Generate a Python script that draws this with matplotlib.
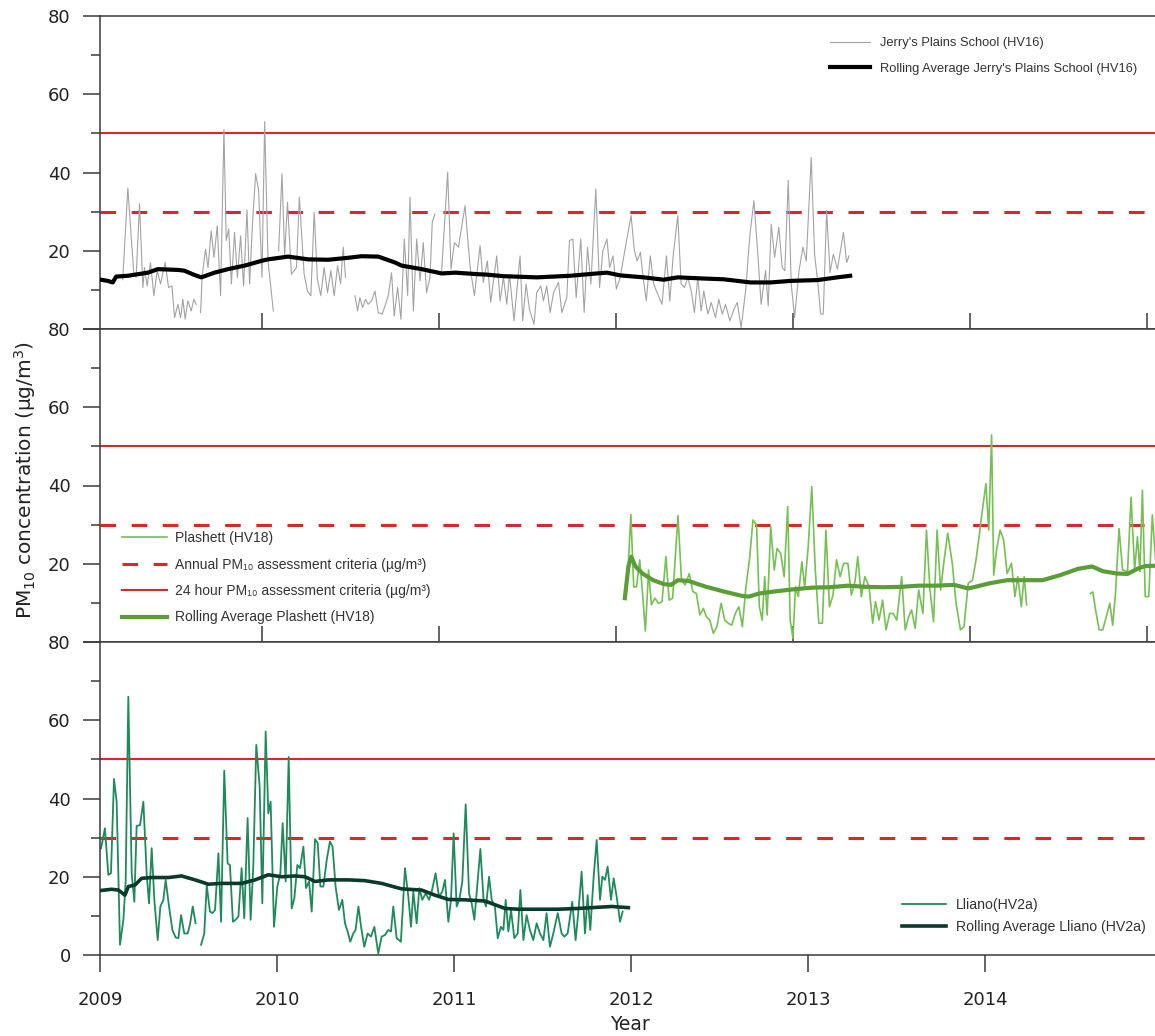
import numpy as np
import matplotlib
matplotlib.use("Agg")
import matplotlib.pyplot as plt
from matplotlib.ticker import FixedLocator

nan = np.nan

# ---------------- data (decimal year, PM10 ug/m3) ----------------
jerrys_obs = [
    (2009.213, 12.6), (2009.242, 36.0), (2009.276, 14.0), (2009.289, 13.2), (2009.308, 32.0),
    (2009.327, 10.6), (2009.336, 15.7), (2009.351, 11.0), (2009.370, 17.0), (2009.389, 8.5),
    (2009.408, 14.9), (2009.427, 11.5), (2009.453, 17.0), (2009.472, 10.6), (2009.491, 11.0),
    (2009.506, 2.9), (2009.525, 6.3), (2009.540, 2.9), (2009.553, 7.6), (2009.566, 2.5),
    (2009.581, 7.2), (2009.600, 4.6), (2009.615, 7.6), (2009.628, 6.3), (2009.640, nan),
    (2009.653, 4.2), (2009.662, 13.6), (2009.681, 20.4), (2009.695, 15.7), (2009.713, 25.1),
    (2009.729, 18.3), (2009.747, 26.4), (2009.766, 8.5), (2009.785, 51.0), (2009.798, 22.6),
    (2009.812, 25.6), (2009.827, 11.5), (2009.845, 24.7), (2009.861, 13.2), (2009.879, 23.8),
    (2009.896, 11.0), (2009.915, 30.4), (2009.930, 11.5), (2009.945, 26.0), (2009.964, 39.7),
    (2009.981, 35.4), (2010.000, 13.2), (2010.015, 53.0), (2010.034, 17.4), (2010.064, 4.6),
    (2010.080, nan),
    (2010.094, 20.0), (2010.113, 39.7), (2010.128, 18.7), (2010.144, 32.4), (2010.166, 14.0),
    (2010.195, 15.7), (2010.211, 33.7), (2010.238, 14.0), (2010.257, 9.7), (2010.276, 8.5),
    (2010.295, 29.8), (2010.313, 12.7), (2010.332, 8.5), (2010.351, 15.7), (2010.370, 9.3),
    (2010.389, 14.9), (2010.408, 8.5), (2010.427, 16.2), (2010.444, 11.5), (2010.459, 20.9),
    (2010.472, 13.2), (2010.500, nan),
    (2010.525, 8.5), (2010.540, 4.6), (2010.553, 8.0), (2010.568, 5.5), (2010.585, 7.6),
    (2010.600, 6.3), (2010.619, 7.2), (2010.638, 9.7), (2010.657, 4.2), (2010.679, 3.8),
    (2010.698, 6.3), (2010.713, 8.5), (2010.732, 14.4), (2010.747, 3.3), (2010.766, 10.6),
    (2010.785, 2.5), (2010.804, 23.0), (2010.823, 8.5), (2010.836, 33.7), (2010.855, 4.6),
    (2010.874, 23.0), (2010.893, 12.3), (2010.911, 22.1), (2010.930, 9.3), (2010.949, 13.2),
    (2010.962, 27.3), (2010.977, 29.4), (2010.995, nan),
    (2011.015, 14.9), (2011.049, 40.1), (2011.068, 15.3), (2011.087, 22.1), (2011.110, 20.9),
    (2011.147, 31.5), (2011.176, 15.7), (2011.200, 8.5), (2011.232, 21.3), (2011.250, 11.9),
    (2011.273, 17.4), (2011.292, 6.8), (2011.326, 18.7), (2011.345, 7.2), (2011.364, 13.2),
    (2011.383, 6.3), (2011.398, 14.0), (2011.424, 2.1), (2011.443, 11.5), (2011.458, 18.7),
    (2011.473, 2.1), (2011.492, 11.5), (2011.511, 5.0), (2011.537, 1.2), (2011.552, 9.3),
    (2011.575, 11.0), (2011.590, 7.2), (2011.609, 11.0), (2011.628, 4.2), (2011.647, 9.3),
    (2011.675, 11.9), (2011.694, 4.2), (2011.722, 8.0), (2011.737, 22.6), (2011.756, 23.0),
    (2011.775, 8.0), (2011.801, 23.0), (2011.820, 4.2), (2011.839, 20.9), (2011.858, 11.5),
    (2011.886, 35.8), (2011.907, 10.6), (2011.926, 20.0), (2011.949, 23.0), (2011.964, 15.7),
    (2011.983, 18.7), (2012.002, 10.2), (2012.024, 13.2), (2012.053, 20.9), (2012.085, 29.0),
    (2012.104, 20.0), (2012.119, 17.4), (2012.138, 19.6), (2012.153, 13.2), (2012.171, 7.2),
    (2012.194, 18.7), (2012.213, 11.5), (2012.232, 9.3), (2012.260, 6.3), (2012.285, 18.7),
    (2012.304, 7.2), (2012.323, 18.7), (2012.349, 29.0), (2012.368, 11.5), (2012.387, 10.6),
    (2012.406, 13.2), (2012.425, 9.7), (2012.443, 4.2), (2012.462, 13.2), (2012.481, 4.6),
    (2012.496, 9.7), (2012.519, 3.8), (2012.538, 6.8), (2012.562, 2.9), (2012.581, 7.6),
    (2012.600, 3.8), (2012.619, 6.3), (2012.643, 2.1), (2012.666, 5.0), (2012.685, 6.8),
    (2012.707, 0.3), (2012.732, 9.7), (2012.756, 23.8), (2012.779, 32.8), (2012.802, 18.7),
    (2012.820, 6.3), (2012.845, 14.9), (2012.860, 5.9), (2012.877, 26.8), (2012.896, 18.3),
    (2012.920, 26.0), (2012.939, 15.7), (2012.954, 14.9), (2012.973, 38.0), (2012.990, 11.5),
    (2013.009, 2.9), (2013.034, 14.9), (2013.056, 20.9), (2013.075, 17.4), (2013.103, 43.9),
    (2013.122, 19.1), (2013.141, 11.5), (2013.156, 3.8), (2013.171, 3.8), (2013.190, 30.3),
    (2013.209, 14.4), (2013.228, 19.1), (2013.251, 15.3), (2013.285, 24.7), (2013.303, 17.0),
    (2013.317, 18.7),
]
jerrys_roll = [
    (2009.076, 12.7), (2009.128, 12.3), (2009.157, 11.9), (2009.176, 13.4), (2009.242, 13.6),
    (2009.298, 14.0), (2009.355, 14.4), (2009.411, 15.3), (2009.525, 15.1), (2009.562, 14.9),
    (2009.619, 13.8), (2009.657, 13.2), (2009.732, 14.4), (2009.808, 15.3), (2009.902, 16.2),
    (2009.996, 17.4), (2010.034, 17.8), (2010.147, 18.5), (2010.261, 17.8), (2010.374, 17.7),
    (2010.487, 18.2), (2010.562, 18.6), (2010.657, 18.5), (2010.751, 17.0), (2010.789, 16.2),
    (2010.902, 15.3), (2011.015, 14.2), (2011.091, 14.4), (2011.223, 14.0), (2011.269, 13.9),
    (2011.364, 13.5), (2011.552, 13.2), (2011.741, 13.6), (2011.892, 14.2), (2011.949, 14.4),
    (2012.024, 13.7), (2012.156, 13.2), (2012.269, 12.6), (2012.349, 13.2), (2012.496, 12.9),
    (2012.609, 12.7), (2012.685, 12.3), (2012.760, 11.9), (2012.873, 11.9), (2012.987, 12.3),
    (2013.137, 12.5), (2013.251, 13.2), (2013.323, 13.6),
]
plashett_obs = [
    (2012.050, 11.2), (2012.066, 16.7), (2012.084, 32.6), (2012.100, 14.1), (2012.116, 14.1),
    (2012.134, 21.0), (2012.150, 12.4), (2012.166, 2.8), (2012.184, 18.4), (2012.200, 9.5),
    (2012.220, 11.2), (2012.240, 9.9), (2012.260, 10.3), (2012.282, 21.8), (2012.300, 10.7),
    (2012.320, 11.2), (2012.350, 32.3), (2012.370, 15.8), (2012.390, 14.6), (2012.414, 17.5),
    (2012.434, 12.9), (2012.454, 12.4), (2012.474, 6.9), (2012.494, 8.6), (2012.510, 6.5),
    (2012.530, 5.6), (2012.550, 2.2), (2012.570, 3.9), (2012.594, 9.9), (2012.614, 5.6),
    (2012.634, 4.8), (2012.654, 4.3), (2012.674, 7.3), (2012.694, 9.0), (2012.714, 3.9),
    (2012.734, 14.1), (2012.754, 21.0), (2012.774, 31.2), (2012.794, 29.9), (2012.810, 9.0),
    (2012.826, 5.6), (2012.840, 16.7), (2012.854, 6.9), (2012.874, 29.5), (2012.894, 18.4),
    (2012.910, 23.9), (2012.930, 22.7), (2012.950, 16.7), (2012.970, 34.6), (2012.984, 5.6),
    (2013.000, 0.9), (2013.014, 14.1), (2013.030, 11.6), (2013.050, 20.5), (2013.066, 14.1),
    (2013.086, 24.4), (2013.106, 39.7), (2013.126, 18.4), (2013.146, 4.8), (2013.166, 4.8),
    (2013.186, 28.6), (2013.206, 9.0), (2013.226, 12.0), (2013.246, 21.0), (2013.266, 16.7),
    (2013.286, 20.1), (2013.310, 20.1), (2013.330, 12.0), (2013.350, 15.4), (2013.366, 21.8),
    (2013.386, 11.6), (2013.406, 16.7), (2013.430, 14.1), (2013.450, 4.8), (2013.466, 10.3),
    (2013.486, 5.6), (2013.506, 10.7), (2013.526, 3.1), (2013.546, 7.3), (2013.566, 7.3),
    (2013.586, 5.6), (2013.614, 16.7), (2013.634, 3.1), (2013.654, 6.5), (2013.670, 8.2),
    (2013.690, 3.5), (2013.710, 13.3), (2013.734, 7.3), (2013.754, 28.6), (2013.774, 13.3),
    (2013.794, 5.2), (2013.814, 28.6), (2013.834, 13.3), (2013.854, 21.0), (2013.874, 27.8),
    (2013.900, 20.1), (2013.920, 10.3), (2013.946, 3.1), (2013.966, 3.9), (2013.990, 15.0),
    (2014.014, 15.8), (2014.034, 21.0), (2014.054, 27.8), (2014.070, 33.7), (2014.090, 40.5),
    (2014.106, 28.6), (2014.122, 52.9), (2014.134, 17.1), (2014.150, 23.5), (2014.170, 28.6),
    (2014.190, 26.1), (2014.210, 17.5), (2014.234, 20.1), (2014.254, 11.6), (2014.270, 16.7),
    (2014.290, 9.0), (2014.306, 16.7), (2014.320, 9.5), (2014.500, nan),
    (2014.680, 12.4), (2014.694, 12.8), (2014.710, 8.0), (2014.730, 3.1), (2014.750, 3.1),
    (2014.770, 6.5), (2014.790, 9.9), (2014.806, 4.3), (2014.822, 12.4), (2014.842, 29.0),
    (2014.862, 18.4), (2014.890, 18.0), (2014.910, 37.0), (2014.930, 18.4), (2014.946, 26.9),
    (2014.960, 18.0), (2014.974, 38.8), (2014.990, 11.6), (2015.010, 11.6), (2015.030, 32.5),
    (2015.050, 20.0),
]
plashett_roll = [
    (2012.050, 11.2), (2012.070, 19.3), (2012.086, 21.8), (2012.110, 19.3), (2012.150, 17.5),
    (2012.210, 15.8), (2012.270, 14.8), (2012.310, 14.6), (2012.350, 15.8), (2012.410, 15.6),
    (2012.510, 14.1), (2012.610, 12.9), (2012.710, 11.8), (2012.750, 11.6), (2012.810, 12.4),
    (2012.910, 13.0), (2013.010, 13.5), (2013.110, 13.9), (2013.210, 14.0), (2013.310, 14.4),
    (2013.410, 14.1), (2013.510, 14.0), (2013.610, 14.1), (2013.710, 14.4), (2013.810, 14.4),
    (2013.910, 14.6), (2013.990, 13.7), (2014.030, 14.1), (2014.110, 15.0), (2014.210, 15.8),
    (2014.310, 15.8), (2014.410, 15.8), (2014.510, 17.1), (2014.610, 18.7), (2014.690, 19.3),
    (2014.750, 18.1), (2014.830, 17.5), (2014.890, 17.4), (2014.950, 18.8), (2014.990, 19.4),
    (2015.050, 19.5),
]
lliano_obs = [
    (2009.006, 27.3), (2009.028, 32.4), (2009.047, 20.5), (2009.062, 20.9), (2009.079, 45.0),
    (2009.094, 39.2), (2009.113, 2.6), (2009.132, 9.0), (2009.145, 18.8), (2009.160, 66.0),
    (2009.179, 20.9), (2009.194, 13.6), (2009.207, 33.0), (2009.226, 33.2), (2009.245, 39.2),
    (2009.264, 20.5), (2009.277, 13.2), (2009.292, 27.3), (2009.307, 14.1), (2009.326, 3.8),
    (2009.341, 12.4), (2009.358, 14.1), (2009.371, 19.2), (2009.390, 12.4), (2009.409, 6.4),
    (2009.427, 4.5), (2009.443, 4.3), (2009.458, 10.2), (2009.476, 5.5), (2009.495, 5.5),
    (2009.508, 7.7), (2009.524, 12.4), (2009.540, 8.1), (2009.555, nan),
    (2009.571, 2.6), (2009.589, 5.5), (2009.603, 17.9), (2009.621, 11.1), (2009.635, 10.7),
    (2009.650, 11.5), (2009.669, 26.0), (2009.684, 8.5), (2009.702, 47.1), (2009.721, 23.4),
    (2009.734, 23.0), (2009.751, 8.5), (2009.766, 9.0), (2009.782, 9.8), (2009.800, 22.2),
    (2009.815, 9.4), (2009.834, 35.0), (2009.851, 9.0), (2009.866, 22.6), (2009.883, 53.7),
    (2009.902, 43.0), (2009.917, 13.2), (2009.936, 57.1), (2009.951, 36.2), (2009.964, 39.2),
    (2009.983, 7.2), (2010.002, 17.5), (2010.019, 20.9), (2010.032, 33.7), (2010.049, 18.8),
    (2010.066, 50.6), (2010.083, 11.9), (2010.098, 14.5), (2010.115, 23.0), (2010.130, 22.2),
    (2010.149, 27.7), (2010.164, 17.1), (2010.181, 18.8), (2010.196, 11.1), (2010.215, 29.6),
    (2010.230, 28.6), (2010.245, 17.5), (2010.262, 17.5), (2010.281, 24.3), (2010.299, 29.0),
    (2010.314, 27.7), (2010.331, 17.5), (2010.350, 11.5), (2010.369, 14.1), (2010.384, 8.1),
    (2010.399, 6.0), (2010.414, 3.4), (2010.431, 5.5), (2010.444, 6.4), (2010.460, 12.4),
    (2010.475, 7.2), (2010.493, 2.1), (2010.512, 5.5), (2010.531, 4.7), (2010.550, 7.2),
    (2010.572, 0.4), (2010.591, 4.7), (2010.610, 5.1), (2010.629, 6.4), (2010.644, 6.0),
    (2010.657, 12.4), (2010.676, 4.3), (2010.700, 3.4), (2010.723, 22.2), (2010.742, 14.9),
    (2010.757, 7.2), (2010.770, 16.2), (2010.789, 8.1), (2010.804, 17.1), (2010.821, 14.1),
    (2010.840, 15.8), (2010.859, 14.1), (2010.874, 16.2), (2010.896, 20.9), (2010.915, 14.9),
    (2010.934, 16.2), (2010.949, 19.2), (2010.968, 8.5), (2010.983, 14.1), (2010.998, 31.1),
    (2011.015, 12.4), (2011.030, 14.1), (2011.047, 18.8), (2011.066, 38.5), (2011.085, 15.8),
    (2011.100, 13.2), (2011.115, 9.0), (2011.149, 27.1), (2011.167, 14.1), (2011.181, 12.4),
    (2011.198, 20.0), (2011.213, 14.1), (2011.231, 12.4), (2011.247, 4.3), (2011.265, 7.2),
    (2011.279, 6.4), (2011.292, 14.1), (2011.307, 6.0), (2011.322, 11.5), (2011.341, 4.3),
    (2011.360, 5.5), (2011.375, 16.6), (2011.392, 3.8), (2011.410, 10.2), (2011.429, 6.4),
    (2011.448, 3.8), (2011.467, 8.1), (2011.486, 5.5), (2011.505, 3.8), (2011.523, 10.7),
    (2011.542, 2.1), (2011.561, 5.5), (2011.586, 10.7), (2011.608, 5.5), (2011.623, 4.7),
    (2011.642, 5.5), (2011.668, 13.6), (2011.687, 3.8), (2011.702, 10.7), (2011.721, 21.3),
    (2011.740, 5.5), (2011.755, 15.3), (2011.770, 6.4), (2011.789, 20.0), (2011.806, 29.4),
    (2011.825, 14.1), (2011.838, 20.0), (2011.853, 19.2), (2011.868, 22.6), (2011.887, 14.1),
    (2011.902, 19.6), (2011.919, 14.9), (2011.938, 8.5), (2011.953, 11.1),
]
lliano_roll = [
    (2009.006, 16.5), (2009.066, 16.8), (2009.104, 16.6), (2009.141, 15.3), (2009.160, 17.5),
    (2009.198, 17.9), (2009.235, 19.6), (2009.292, 19.8), (2009.386, 19.8), (2009.461, 20.2),
    (2009.537, 19.2), (2009.612, 18.1), (2009.687, 18.3), (2009.800, 18.3), (2009.876, 19.2),
    (2009.951, 20.5), (2010.026, 20.0), (2010.102, 20.2), (2010.158, 20.0), (2010.215, 18.8),
    (2010.290, 19.2), (2010.403, 19.2), (2010.497, 19.0), (2010.591, 18.3), (2010.704, 16.9),
    (2010.817, 16.6), (2010.892, 15.3), (2010.968, 14.2), (2011.062, 14.1), (2011.175, 13.8),
    (2011.288, 11.9), (2011.363, 11.7), (2011.476, 11.7), (2011.589, 11.7), (2011.702, 11.9),
    (2011.815, 12.2), (2011.890, 12.4), (2011.985, 12.1),
]
annual_criteria = 30
daily_criteria = 50
y_ticks = [0, 20, 40, 60, 80]
y_minor = [10, 30, 50, 70]
top_x_ticks = [2010, 2011, 2012, 2013, 2014, 2015]
bottom_x_ticks = [2009, 2010, 2011, 2012, 2013, 2014]
bottom_x_labels = ["2009", "2010", "2011", "2012", "2013", "2014"]

# ---------------- figure ----------------
W, H = 1155, 1036
plt.rcParams["font.family"] = ["DejaVu Sans"]
fig = plt.figure(figsize=(W / 100, H / 100), dpi=100)


def fx(px):
    return px / W


def fy(py):
    return 1 - py / H


RED = "#d8282c"
SPINE = "#3a3a3a"
LEG_FAMILY = ["Liberation Sans", "DejaVu Sans"]
bounds = [16, 329, 642, 955]
axes = []
for i in range(3):
    top, bot = bounds[i], bounds[i + 1]
    ax = fig.add_axes([fx(100), fy(bot), fx(1160) - fx(100), (bot - top) / H])
    axes.append(ax)
ax1, ax2, ax3 = axes

span = (1160 - 100) / 177.0
for k, ax in enumerate(axes):
    ax.set_ylim(0, 80)
    ax.spines["right"].set_visible(False)
    for s in ("left", "bottom", "top"):
        ax.spines[s].set_color(SPINE)
        ax.spines[s].set_linewidth(1.1)
    ax.yaxis.set_major_locator(FixedLocator(y_ticks))
    ax.yaxis.set_minor_locator(FixedLocator(y_minor))
    labels = [str(v) for v in y_ticks]
    if k < 2:
        labels[0] = ""
    ax.set_yticklabels(labels)
    ax.tick_params(axis="y", which="major", direction="out", length=12, width=1.1,
                   color=SPINE, labelsize=13, pad=9, labelcolor="#222222")
    ax.tick_params(axis="y", which="minor", direction="out", length=6.5, width=1.1,
                   color=SPINE)
    ax.axhline(daily_criteria, color=RED, lw=1.5, zorder=1)
    ax.axhline(annual_criteria, color=RED, lw=2.2, dashes=(5.1, 5.1), zorder=1)

x0_top = 2009 + 15 / 177.0
for ax in (ax1, ax2):
    ax.set_xlim(x0_top, x0_top + span)
    ax.xaxis.set_major_locator(FixedLocator(top_x_ticks))
    ax.tick_params(axis="x", which="major", direction="in", length=11.5, width=1.1,
                   color=SPINE, labelbottom=False)
ax3.set_xlim(2009, 2009 + span)
ax3.xaxis.set_major_locator(FixedLocator(bottom_x_ticks))
ax3.set_xticklabels(bottom_x_labels)
ax3.tick_params(axis="x", which="major", direction="out", length=12, width=1.1,
                color=SPINE, labelsize=13, pad=14, labelcolor="#222222")


def xy(pairs):
    return [p[0] for p in pairs], [p[1] for p in pairs]


# panel 1
x, y = xy(jerrys_obs)
l1, = ax1.plot(x, y, color="#a3a3a3", lw=0.8, zorder=2)
x, y = xy(jerrys_roll)
l2, = ax1.plot(x, y, color="black", lw=3.0, zorder=3)
ax1.legend([l1, l2], ["Jerry's Plains School (HV16)",
                      "Rolling Average Jerry's Plains School (HV16)"],
           loc="upper left", bbox_to_anchor=(fx(830), fy(37)),
           bbox_transform=fig.transFigure, frameon=False, borderpad=0,
           borderaxespad=0, handlelength=3.1, handletextpad=0.78,
           labelspacing=1.05, prop={"family": LEG_FAMILY, "size": 9.3},
           labelcolor="#333333")

# panel 2
x, y = xy(plashett_obs)
p1, = ax2.plot(x, y, color="#76c054", lw=1.2, zorder=2)
x, y = xy(plashett_roll)
p2, = ax2.plot(x, y, color="#5b9d36", lw=3.0, zorder=3)
h_ann, = ax2.plot([], [], color=RED, lw=2.2, dashes=(5.1, 5.1))
h_day, = ax2.plot([], [], color=RED, lw=1.5)
ax2.legend([p1, h_ann, h_day, p2],
           ["Plashett (HV18)",
            "Annual PM\u2081\u2080 assessment criteria (\u00b5g/m\u00b3)",
            "24 hour PM\u2081\u2080 assessment criteria (\u00b5g/m\u00b3)",
            "Rolling Average Plashett (HV18)"],
           loc="upper left", bbox_to_anchor=(fx(122), fy(531)),
           bbox_transform=fig.transFigure, frameon=False, borderpad=0,
           borderaxespad=0, handlelength=3.25, handletextpad=0.58,
           labelspacing=0.9, prop={"family": LEG_FAMILY, "size": 10},
           labelcolor="#333333")

# panel 3
x, y = xy(lliano_obs)
q1, = ax3.plot(x, y, color="#1f8a5b", lw=1.3, zorder=2)
x, y = xy(lliano_roll)
q2, = ax3.plot(x, y, color="#0b3a2c", lw=2.6, zorder=3)
ax3.legend([q1, q2], ["Lliano(HV2a)", "Rolling Average Lliano (HV2a)"],
           loc="upper left", bbox_to_anchor=(fx(902), fy(898)),
           bbox_transform=fig.transFigure, frameon=False, borderpad=0,
           borderaxespad=0, handlelength=3.1, handletextpad=0.72,
           labelspacing=0.55, prop={"family": LEG_FAMILY, "size": 10.2},
           labelcolor="#333333")

fig.text(fx(25), fy(480), "PM$_{10}$ concentration (\u00b5g/m$^3$)", rotation=90,
         ha="center", va="center", fontsize=14.5, color="#222222")
fig.text(fx(630), fy(1025), "Year", ha="center", va="center", fontsize=13.5,
         color="#222222")

fig.savefig("out.png", dpi=100)
